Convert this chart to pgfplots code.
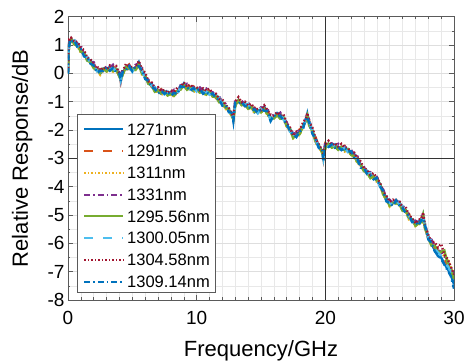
\documentclass[border=0pt]{standalone}
\usepackage{fontspec}
\setmainfont{Liberation Sans}
\usepackage{pgfplots}
\usepackage{pgfplotstable}
\pgfplotsset{compat=1.18}
\definecolor{mblue}{RGB}{0,114,189}
\definecolor{morange}{RGB}{217,83,25}
\definecolor{myellow}{RGB}{237,177,32}
\definecolor{mpurple}{RGB}{126,47,142}
\definecolor{mgreen}{RGB}{119,172,48}
\definecolor{mcyan}{RGB}{77,190,238}
\definecolor{mred}{RGB}{162,20,47}
\definecolor{axgray}{RGB}{90,90,90}
\pgfplotstableread{
x a b c d e f g h
0.00 0.00 0.02 -0.02 0.03 0.00 0.01 0.05 -0.02
0.05 .81 .92 .75 .96 .75 .92 .86 .85
0.10 1.07 1.05 1.03 1.06 1.07 1.00 1.18 .96
0.15 1.07 1.23 1.03 1.21 1.09 1.17 1.17 1.17
0.25 1.21 1.13 1.17 1.14 1.20 1.10 1.25 1.12
0.50 1.08 1.15 1.01 1.20 1.02 1.16 1.10 1.15
0.75 1.05 .94 .95 1.01 .98 .94 1.10 .91
1.00 .80 .93 .73 .97 .76 .87 .90 .86
1.25 .71 .66 .68 .68 .71 .61 .82 .60
1.50 .46 .56 .45 .60 .45 .57 .54 .56
1.75 .46 .35 .42 .39 .39 .38 .50 .34
2.00 .24 .35 .18 .39 .18 .35 .29 .28
2.25 .14 .12 .10 .13 .14 .07 .25 .03
2.50 -.01 .15 -.05 .13 .01 .09 .09 .09
2.75 .17 .09 .13 .10 .16 .06 .21 .08
3.00 .13 .20 .06 .25 .07 .21 .15 .20
3.25 .23 .12 .13 .19 .16 .12 .28 .09
3.50 .13 .26 .06 .30 .09 .20 .23 .19
3.75 .15 .10 .12 .12 .15 .05 .26 .04
4.00 -.11 -.01 -.12 .03 -.12 .00 -.03 -.01
4.10 -.16 -.27 -.20 -.23 -.23 -.24 -.12 -.28
4.25 .01 .12 -.05 .16 -.05 .12 .06 .05
4.50 .22 .20 .18 .21 .22 .15 .33 .11
4.75 .15 .31 .11 .29 .17 .25 .25 .25
5.00 .17 .09 .13 .10 .16 .06 .21 .08
5.25 .18 .25 .11 .30 .12 .26 .20 .25
5.50 .39 .28 .29 .35 .32 .28 .44 .25
5.75 .03 .16 -.04 .20 -.01 .10 .13 .09
6.00 -.09 -.14 -.12 -.12 -.09 -.19 .02 -.20
6.25 -.36 -.26 -.37 -.22 -.37 -.25 -.28 -.26
6.50 -.36 -.47 -.40 -.43 -.43 -.44 -.32 -.48
6.75 -.59 -.48 -.65 -.44 -.65 -.48 -.54 -.55
7.00 -.60 -.62 -.64 -.61 -.60 -.67 -.49 -.71
7.25 -.72 -.56 -.76 -.58 -.70 -.62 -.62 -.62
7.50 -.63 -.71 -.67 -.70 -.64 -.74 -.59 -.72
7.75 -.72 -.65 -.79 -.60 -.78 -.64 -.70 -.65
8.00 -.65 -.76 -.75 -.69 -.72 -.76 -.60 -.79
8.25 -.75 -.62 -.82 -.58 -.79 -.68 -.65 -.69
8.50 -.62 -.67 -.65 -.65 -.62 -.72 -.51 -.73
8.75 -.56 -.46 -.57 -.42 -.57 -.45 -.48 -.46
9.00 -.36 -.47 -.40 -.43 -.43 -.44 -.32 -.48
9.25 -.52 -.41 -.58 -.37 -.58 -.41 -.47 -.48
9.50 -.50 -.52 -.54 -.51 -.50 -.57 -.39 -.61
9.75 -.62 -.46 -.66 -.48 -.60 -.52 -.52 -.52
10.00 -.53 -.61 -.57 -.60 -.54 -.64 -.49 -.62
10.25 -.62 -.55 -.69 -.50 -.68 -.54 -.60 -.55
10.50 -.58 -.69 -.68 -.62 -.65 -.69 -.53 -.72
10.75 -.71 -.58 -.78 -.54 -.75 -.64 -.61 -.65
11.00 -.65 -.70 -.68 -.68 -.65 -.75 -.54 -.76
11.25 -.81 -.71 -.82 -.67 -.82 -.70 -.73 -.71
11.50 -.76 -.87 -.80 -.83 -.83 -.84 -.72 -.88
11.75 -.96 -.85 -1.02 -.81 -1.02 -.85 -.91 -.92
12.00 -1.03 -1.05 -1.07 -1.04 -1.03 -1.10 -.92 -1.14
12.25 -1.22 -1.06 -1.26 -1.08 -1.20 -1.12 -1.12 -1.12
12.50 -1.27 -1.35 -1.31 -1.34 -1.28 -1.38 -1.23 -1.36
12.75 -1.47 -1.40 -1.54 -1.35 -1.53 -1.39 -1.45 -1.40
12.85 -1.55 -1.66 -1.65 -1.59 -1.62 -1.66 -1.50 -1.69
13.00 -1.10 -.97 -1.17 -.93 -1.14 -1.03 -1.00 -1.04
13.25 -.95 -1.00 -.98 -.98 -.95 -1.05 -.84 -1.06
13.50 -1.11 -1.01 -1.12 -.97 -1.12 -1.00 -1.03 -1.01
13.75 -1.04 -1.15 -1.08 -1.11 -1.11 -1.12 -1.00 -1.16
14.00 -1.19 -1.08 -1.25 -1.04 -1.25 -1.08 -1.14 -1.15
14.25 -1.18 -1.20 -1.22 -1.19 -1.18 -1.25 -1.07 -1.29
14.50 -1.37 -1.21 -1.41 -1.23 -1.35 -1.27 -1.27 -1.27
14.75 -1.30 -1.38 -1.34 -1.37 -1.31 -1.41 -1.26 -1.39
15.00 -1.32 -1.25 -1.39 -1.20 -1.38 -1.24 -1.30 -1.25
15.25 -1.18 -1.29 -1.28 -1.22 -1.25 -1.29 -1.13 -1.32
15.50 -1.40 -1.27 -1.47 -1.23 -1.44 -1.33 -1.30 -1.34
15.75 -1.57 -1.62 -1.60 -1.60 -1.57 -1.67 -1.46 -1.68
16.00 -1.58 -1.48 -1.59 -1.44 -1.59 -1.47 -1.50 -1.48
16.25 -1.41 -1.52 -1.45 -1.48 -1.48 -1.49 -1.37 -1.53
16.50 -1.54 -1.43 -1.60 -1.39 -1.60 -1.43 -1.49 -1.50
16.75 -1.56 -1.58 -1.60 -1.57 -1.56 -1.63 -1.45 -1.67
17.00 -1.87 -1.71 -1.91 -1.73 -1.85 -1.77 -1.77 -1.77
17.25 -1.95 -2.03 -1.99 -2.02 -1.96 -2.06 -1.91 -2.04
17.50 -2.22 -2.15 -2.29 -2.10 -2.28 -2.14 -2.20 -2.15
17.75 -2.11 -2.22 -2.21 -2.15 -2.18 -2.22 -2.06 -2.25
18.00 -2.11 -1.98 -2.18 -1.94 -2.15 -2.04 -2.01 -2.05
18.25 -1.87 -1.92 -1.90 -1.90 -1.87 -1.97 -1.76 -1.98
18.50 -1.66 -1.56 -1.67 -1.52 -1.67 -1.55 -1.58 -1.56
18.60 -1.44 -1.55 -1.48 -1.51 -1.51 -1.52 -1.40 -1.56
18.75 -1.79 -1.68 -1.85 -1.64 -1.85 -1.68 -1.74 -1.75
19.00 -2.03 -2.05 -2.07 -2.04 -2.03 -2.10 -1.92 -2.14
19.25 -2.42 -2.26 -2.46 -2.28 -2.40 -2.32 -2.32 -2.32
19.50 -2.55 -2.63 -2.59 -2.62 -2.56 -2.66 -2.51 -2.64
19.75 -2.74 -2.67 -2.81 -2.62 -2.80 -2.66 -2.72 -2.67
19.85 -2.88 -2.99 -2.98 -2.92 -2.95 -2.99 -2.83 -3.12
20.00 -2.60 -2.47 -2.67 -2.43 -2.64 -2.53 -2.50 -2.54
20.25 -2.49 -2.54 -2.52 -2.52 -2.49 -2.59 -2.38 -2.60
20.50 -2.61 -2.51 -2.62 -2.47 -2.62 -2.50 -2.53 -2.51
20.75 -2.51 -2.62 -2.55 -2.58 -2.58 -2.59 -2.47 -2.63
21.00 -2.64 -2.53 -2.70 -2.49 -2.70 -2.53 -2.59 -2.60
21.25 -2.60 -2.62 -2.64 -2.61 -2.60 -2.67 -2.49 -2.71
21.50 -2.72 -2.56 -2.76 -2.58 -2.70 -2.62 -2.62 -2.62
21.75 -2.67 -2.75 -2.71 -2.74 -2.68 -2.78 -2.63 -2.76
22.00 -2.82 -2.75 -2.89 -2.70 -2.88 -2.74 -2.80 -2.75
22.25 -2.85 -2.96 -2.95 -2.89 -2.92 -2.96 -2.80 -2.99
22.50 -3.10 -2.97 -3.17 -2.93 -3.14 -3.03 -3.00 -3.04
22.75 -3.22 -3.27 -3.25 -3.25 -3.22 -3.32 -3.11 -3.33
23.00 -3.44 -3.34 -3.45 -3.30 -3.45 -3.33 -3.36 -3.34
23.25 -3.44 -3.55 -3.48 -3.51 -3.51 -3.52 -3.40 -3.56
23.50 -3.64 -3.53 -3.70 -3.49 -3.70 -3.53 -3.59 -3.60
23.75 -3.63 -3.65 -3.67 -3.64 -3.63 -3.70 -3.52 -3.74
24.00 -3.79 -3.63 -3.83 -3.65 -3.77 -3.69 -3.69 -3.69
24.25 -3.90 -3.98 -3.94 -3.97 -3.91 -4.01 -3.86 -3.99
24.50 -4.22 -4.15 -4.29 -4.10 -4.28 -4.14 -4.20 -4.15
24.75 -4.38 -4.49 -4.48 -4.42 -4.45 -4.49 -4.33 -4.52
25.00 -4.63 -4.50 -4.70 -4.46 -4.67 -4.56 -4.53 -4.57
25.25 -4.57 -4.62 -4.60 -4.60 -4.57 -4.67 -4.46 -4.68
25.50 -4.58 -4.48 -4.59 -4.44 -4.59 -4.47 -4.50 -4.48
25.75 -4.54 -4.65 -4.58 -4.61 -4.61 -4.62 -4.50 -4.66
26.00 -4.79 -4.68 -4.85 -4.64 -4.85 -4.68 -4.74 -4.75
26.25 -4.83 -4.85 -4.87 -4.84 -4.83 -4.90 -4.72 -4.94
26.50 -5.12 -4.96 -5.16 -4.98 -5.10 -5.02 -5.02 -5.02
26.75 -5.15 -5.23 -5.19 -5.22 -5.16 -5.26 -5.11 -5.24
27.00 -5.32 -5.25 -5.39 -5.20 -5.38 -5.24 -5.30 -5.25
27.25 -5.23 -5.34 -5.33 -5.27 -5.30 -5.34 -5.18 -5.37
27.50 -5.20 -5.07 -5.27 -5.03 -5.24 -5.13 -5.10 -5.14
27.60 -5.02 -5.07 -5.05 -5.05 -5.02 -5.12 -4.91 -5.13
27.75 -5.46 -5.36 -5.47 -5.32 -5.47 -5.35 -5.38 -5.36
28.00 -5.74 -5.85 -5.78 -5.81 -5.81 -5.82 -5.70 -5.86
28.25 -6.02 -5.91 -6.08 -5.87 -6.08 -5.91 -5.97 -5.98
28.50 -6.23 -6.15 -6.10 -6.10 -6.08 -6.20 -5.95 -6.28
28.75 -6.45 -6.28 -6.25 -6.25 -6.30 -6.32 -6.15 -6.42
29.00 -6.50 -6.40 -6.35 -6.30 -6.30 -6.45 -6.02 -6.55
29.25 -6.72 -6.55 -6.45 -6.45 -6.25 -6.60 -6.40 -6.75
29.50 -6.90 -6.75 -6.55 -6.65 -6.70 -6.80 -6.55 -6.95
29.75 -7.10 -6.95 -6.85 -6.85 -6.95 -7.00 -6.82 -7.15
30.00 -7.45 -7.20 -7.15 -7.15 -7.25 -7.30 -7.10 -7.60
}\data

\begin{document}
\begin{tikzpicture}
\begin{axis}[name=ax, at={(0,0)}, anchor=south west,
  scale only axis, width=386pt, height=283.3pt,
  xmin=0, xmax=30, ymin=-8, ymax=2,
  xtick={0,10,20,30}, ytick={-8,-7,...,2},
  minor x tick num=9, minor y tick num=1,
  grid=both,
  major grid style={black!13, line width=0.5pt},
  minor grid style={black!9, line width=0.5pt},
  tick align=inside, major tick length=5pt, minor tick length=2.5pt,
  axis line style={axgray, line width=0.8pt},
  every tick/.style={axgray, line width=0.6pt},
  /pgf/number format/assume math mode=true,
  tick label style={font=\fontsize{19}{22}\selectfont},
  xticklabel style={yshift=-8pt},
  xlabel={Frequency/GHz}, ylabel={Relative Response/dB},
  every axis x label/.style={at={(axis description cs:0.5,-0.2)}, anchor=base,
    font=\fontsize{22}{26}\selectfont},
  every axis y label/.style={at={(axis description cs:-0.119,0.5)}, anchor=center, rotate=90,
    font=\fontsize{22}{26}\selectfont},
]
\addplot[color=mblue, line width=2.4pt, solid] table[x=x,y=a]{\data};
\addplot[color=morange, line width=2.4pt, dash pattern=on 9pt off 10pt] table[x=x,y=b]{\data};
\addplot[color=myellow, line width=2.4pt, dash pattern=on 1.5pt off 2pt] table[x=x,y=c]{\data};
\addplot[color=mpurple, line width=2.4pt, dash pattern=on 6pt off 3pt on 1.5pt off 3pt] table[x=x,y=d]{\data};
\addplot[color=mgreen, line width=2.4pt, solid] table[x=x,y=e]{\data};
\addplot[color=mcyan, line width=2.4pt, dash pattern=on 9pt off 10pt] table[x=x,y=f]{\data};
\addplot[color=mred, line width=2.4pt, dash pattern=on 1.5pt off 2pt] table[x=x,y=g]{\data};
\addplot[color=mblue, line width=2.4pt, dash pattern=on 6pt off 3pt on 1.5pt off 3pt] table[x=x,y=h]{\data};
\addplot[black!80, line width=0.8pt] coordinates {(20,-8) (20,2)};
\addplot[black!80, line width=0.8pt] coordinates {(0,-3) (30,-3)};
\end{axis}
\path (ax.south west) ++(9.7pt,8pt) coordinate (legsw);
% legend, drawn as a small axis of its own
\begin{axis}[at={(legsw)}, anchor=south west, scale only axis,
  width=138pt, height=178pt, xmin=0, xmax=138, ymin=0, ymax=178,
  hide axis, clip=false]
\draw[axgray, line width=0.8pt, fill=white] (axis cs:0,0) rectangle (axis cs:138,178);
\addplot[color=mblue, line width=1.9pt, solid] coordinates {(6.6,162.7) (45.3,162.7)};
\addplot[color=morange, line width=1.9pt, dash pattern=on 9pt off 10pt] coordinates {(6.6,140.9) (45.3,140.9)};
\addplot[color=myellow, line width=1.9pt, dash pattern=on 1.5pt off 2pt] coordinates {(6.6,119.2) (45.3,119.2)};
\addplot[color=mpurple, line width=1.9pt, dash pattern=on 6pt off 3pt on 1.5pt off 3pt] coordinates {(6.6,97.4) (45.3,97.4)};
\addplot[color=mgreen, line width=1.9pt, solid] coordinates {(6.6,75.6) (45.3,75.6)};
\addplot[color=mcyan, line width=1.9pt, dash pattern=on 9pt off 10pt] coordinates {(6.6,53.9) (45.3,53.9)};
\addplot[color=mred, line width=1.9pt, dash pattern=on 1.5pt off 2pt] coordinates {(6.6,32.1) (45.3,32.1)};
\addplot[color=mblue, line width=1.9pt, dash pattern=on 6pt off 3pt on 1.5pt off 3pt] coordinates {(6.6,10.3) (45.3,10.3)};
\begin{scope}[every node/.style={anchor=base west, inner sep=0pt, font=\fontsize{16.5}{19}\selectfont}]
\node at (axis cs:49.3,156.8) {1271nm};
\node at (axis cs:49.3,135.0) {1291nm};
\node at (axis cs:49.3,113.3) {1311nm};
\node at (axis cs:49.3,91.5) {1331nm};
\node at (axis cs:49.3,69.7) {1295.56nm};
\node at (axis cs:49.3,48.0) {1300.05nm};
\node at (axis cs:49.3,26.2) {1304.58nm};
\node at (axis cs:49.3,4.4) {1309.14nm};
\end{scope}
\end{axis}
\pgfresetboundingbox
\path[use as bounding box] ([shift={(-68pt,-62pt)}]ax.south west) rectangle ([shift={(14pt,16.7pt)}]ax.north east);
\end{tikzpicture}
\end{document}
